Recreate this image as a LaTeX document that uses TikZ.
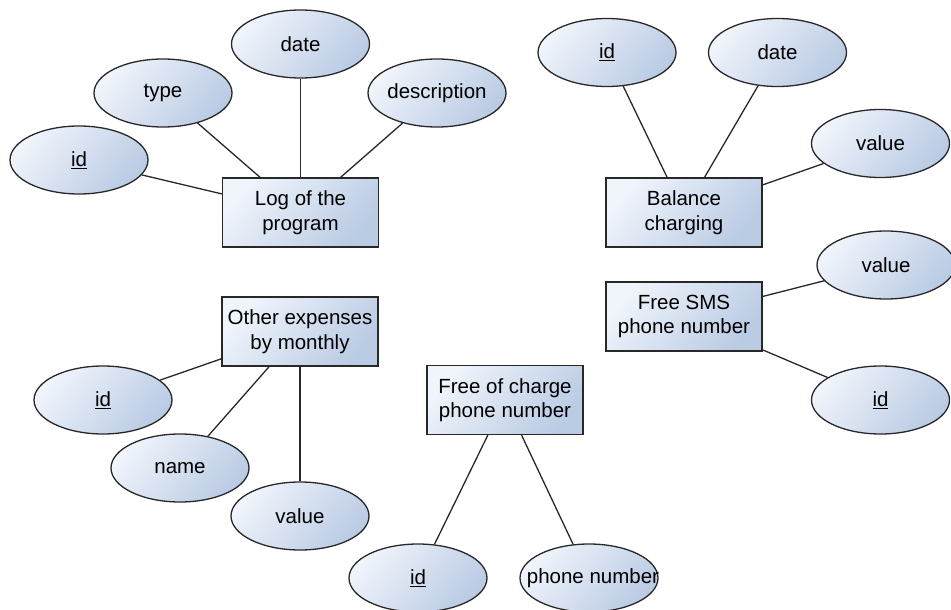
\documentclass[tikz,border=0pt]{standalone}
\usepackage{fontspec}
\setmainfont{Liberation Sans}
\usetikzlibrary{shapes.geometric}
\definecolor{fillhi}{RGB}{240,244,251}
\definecolor{filllo}{RGB}{186,203,228}
\definecolor{edgegray}{RGB}{40,40,40}
\tikzset{
  shaded/.style={top color=fillhi, bottom color=filllo, shading angle=50},
  entity/.style={rectangle, shaded, draw=edgegray, line width=1.3pt,
    minimum width=156pt, minimum height=69pt, inner sep=0pt, align=center,
    font=\fontsize{20.5}{24.5}\selectfont},
  attr/.style={ellipse, shaded, draw=edgegray, line width=1.3pt,
    minimum width=138pt, minimum height=68pt, inner sep=0pt,
    font=\fontsize{20.5}{24.5}\selectfont},
  link/.style={draw=edgegray, line width=1.3pt}
}
\begin{document}
\begin{tikzpicture}[x=1pt, y=-1pt]
\useasboundingbox (0,0) rectangle (951,610);

% Log of the program
\node[entity] (log) at (300.5,212.5) {Log of the\\program};
\node[attr] (logid) at (79,160) {\makebox[0pt]{\underline{id}}};
\node[attr] (logtype) at (163,93) {\makebox[0pt]{type}};
\node[attr] (logdate) at (300.5,44) {\makebox[0pt]{date}};
\node[attr] (logdesc) at (437,93) {\makebox[0pt]{description}};

% Balance charging
\node[entity] (bal) at (684,212.5) {Balance\\charging};
\node[attr] (balid) at (607,52.5) {\makebox[0pt]{\underline{id}}};
\node[attr] (baldate) at (777.5,52.5) {\makebox[0pt]{date}};
\node[attr] (balval) at (880.5,143.5) {\makebox[0pt]{value}};

% Free SMS phone number
\node[entity] (sms) at (684,316.5) {Free SMS\\phone number};
\node[attr] (smsval) at (886,265) {\makebox[0pt]{value}};
\node[attr] (smsid) at (880.5,400) {\makebox[0pt]{\underline{id}}};

% Other expenses by monthly
\node[entity] (oth) at (300,331.5) {Other expenses\\by monthly};
\node[attr] (othid) at (103,400) {\makebox[0pt]{\underline{id}}};
\node[attr] (othname) at (180,468) {\makebox[0pt]{name}};
\node[attr] (othval) at (300,516) {\makebox[0pt]{value}};

% Free of charge phone number
\node[entity] (foc) at (505,400) {Free of charge\\phone number};
\node[attr] (focid) at (418,578) {\makebox[0pt]{\underline{id}}};
\node[attr] (focnum) at (589,578) {\makebox[0pt]{\hspace{8pt}phone number}};

% connectors
\draw[link] (logid) -- (log);
\draw[link] (logtype) -- (log);
\draw[link] (logdate) -- (log);
\draw[link] (logdesc) -- (log);
\draw[link] (balid) -- (bal);
\draw[link] (baldate) -- (bal);
\draw[link] (balval) -- (bal);
\draw[link] (smsval) -- (sms);
\draw[link] (smsid) -- (sms);
\draw[link] (othid) -- (oth);
\draw[link] (othname) -- (oth);
\draw[link] (othval) -- (oth);
\draw[link] (focid) -- (foc);
\draw[link] (focnum) -- (foc);
\end{tikzpicture}
\end{document}
